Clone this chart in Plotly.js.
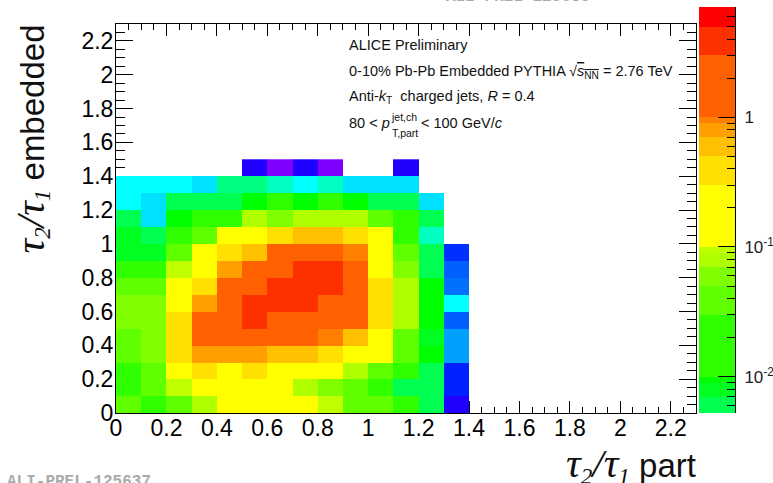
<!DOCTYPE html>
<html><head><meta charset="utf-8">
<script src="https://cdn.plot.ly/plotly-3.0.1.min.js"></script>
<style>html,body{margin:0;padding:0;background:#fff}#c{width:773px;height:483px}</style>
</head><body><div id="c"></div>
<script>
// bin edges of the 2D histogram
const xEdges = [0,0.1,0.2,0.3,0.4,0.5,0.6,0.7,0.8,0.9,1.0,1.1,1.2,1.3,1.4];
const yEdges = [0,0.1,0.2,0.3,0.4,0.5,0.6,0.7,0.8,0.9,1.0,1.1,1.2,1.3,1.4,1.5];
// rows from y = 0 upward, columns from x = 0 rightward
const r00 = [.04,.02,.04,.08,.2,.2,.2,.2,.095,.04,.04,.02,.006,.0006];
const r01 = [.02,.04,.095,.2,.2,.2,.2,.08,.06,.04,.02,.006,.006,.0008];
const r02 = [.02,.04,.2,.4,.2,.4,.2,.2,.2,.08,.04,.02,.006,.0008];
const r03 = [.04,.06,.4,.8,.8,.8,.6,.6,.4,.2,.2,.04,.0095,.0014];
const r04 = [.04,.06,.4,1.5,1.7,1.8,1.6,1.5,.95,.6,.2,.04,.008,.0014];
const r05 = [.06,.06,.4,1.5,2,3.2,2.2,2,1.7,1.3,.4,.08,.0095,.0011];
const r06 = [.06,.06,.2,.8,2,3.2,3.5,3.3,1.8,1.2,.4,.08,.0095,.0025];
const r07 = [.04,.04,.2,.4,1.5,1.9,3.5,4.5,3.2,1.4,.4,.08,.0095,.0012];
const r08 = [.02,.02,.095,.2,.8,1.4,1.8,3.2,3.3,1.6,.2,.06,.006,.0011];
const r09 = [.008,.008,.04,.2,.4,.6,1.3,1.5,1.4,.95,.2,.04,.006,.0009];
const r10 = [.008,.006,.02,.04,.2,.2,.4,.6,.6,.4,.2,.02,.0035,null];
const r11 = [.006,.0018,.0095,.02,.02,.08,.06,.08,.08,.08,.04,.02,.006,null];
const r12 = [.0025,.0018,.006,.006,.006,.0095,.02,.0095,.02,.0095,.006,.006,.0018,null];
const r13 = [.0025,.0025,.0025,.0018,.0045,.0045,.0035,.0025,.0035,.0018,.0018,.0018,null,null];
const r14 = [null,null,null,null,null,.0006,.0004,.0006,.0004,null,null,.0006,null,null];
const zRows = [r00,r01,r02,r03,r04,r05,r06,r07,r08,r09,r10,r11,r12,r13,r14];

// colour contour levels and the colour of each band between them
const levels = [.0003,.0005,.0007,.00085,.001,.00115,.0013,.0015,.002,.003,.004,.005,.007,.009,.01,.03,.05,.07,.09,.1,.3,.5,.7,.9,1,3,5,7.08];
const bandColors = ['#8000ff','#2000ff','#0020ff','#0030ff','#0060ff','#0070ff','#00a0ff','#00e0ff','#00ffff','#00ffc0','#00ff80','#00ff50','#00ff20','#00ff00','#30ff00','#60ff00','#80ff00','#b0ff00','#c0ff00','#ffff00','#ffe000','#ffc000','#ffa000','#ff8000','#ff6000','#ff3000','#ff0000'];
const barMin = 0.00525, barMax = 7.08;
const barTicks = [0.01,0.1,1];
const barTickText = ['10<sup>-2</sup>','10<sup>-1</sup>','1'];

const lg = v => v===null ? null : Math.log10(v);
const zLo = lg(levels[0]), zHi = lg(levels[levels.length-1]);
const frac = v => (lg(v)-zLo)/(zHi-zLo);
const colorscale = [];
bandColors.forEach((c,i)=>{ colorscale.push([frac(levels[i]),c]); colorscale.push([frac(levels[i+1]),c]); });

// colour bar: same colour scale, showing only the displayed range
const barEdges = levels.filter(v=>v>barMin && v<barMax); barEdges.unshift(barMin); barEdges.push(barMax);
const barZ = barEdges.slice(0,-1).map((v,i)=>[(lg(v)+lg(barEdges[i+1]))/2]);

const W=773,H=483;
const px = x=>x/W, py = y=>1-y/H;
const sans = "'Liberation Sans',Arial,sans-serif";
const ann = (text,x,y,size,extra)=>Object.assign({text,x:px(x),y:py(y),xref:'paper',yref:'paper',showarrow:false,xanchor:'left',yanchor:'middle',
  font:{family:sans,size:size,color:'#111'},borderpad:0},extra||{});
const big = s=>`<span style="font-family:'Liberation Serif';font-size:41px"><i>${s}</i></span>`;
const small = s=>`<sub><span style="font-family:'Liberation Serif'"><i>${s}</i></span></sub>`;
const tauRatio = big('τ')+small('2')+big('/τ')+small('1');
const mono = {family:"'Liberation Mono',monospace",size:16,color:'#aaa',weight:700};

const traces = [
 {type:'heatmap',x:xEdges,y:yEdges,z:zRows.map(r=>r.map(lg)),colorscale,zmin:zLo,zmax:zHi,showscale:false,hoverongaps:false},
 {type:'heatmap',x:[0,1],y:barEdges,z:barZ,colorscale,zmin:zLo,zmax:zHi,showscale:false,xaxis:'x2',yaxis:'y2'}
];
const tickCommon = {ticks:'inside',tickwidth:1,tickcolor:'#000',showline:true,linecolor:'#000',linewidth:1,showgrid:false,zeroline:false};
const layout = {
 width:W,height:H,margin:{l:0,r:0,t:0,b:0},paper_bgcolor:'#fff',plot_bgcolor:'#fff',showlegend:false,
 xaxis:Object.assign({},tickCommon,{domain:[px(116),px(696)],range:[0,2.3],tick0:0,dtick:0.2,ticklen:12,
   minor:{ticks:'inside',ticklen:6,dtick:0.05,tick0:0,tickcolor:'#000',tickwidth:1,showgrid:false},
   mirror:'allticks',layer:'below traces',tickfont:{family:sans,size:23,color:'#000'},ticklabelstandoff:-6}),
 yaxis:Object.assign({},tickCommon,{domain:[py(413),py(24)],range:[0,2.3],tick0:0,dtick:0.2,ticklen:17,
   minor:{ticks:'inside',ticklen:9,dtick:0.05,tick0:0,tickcolor:'#000',tickwidth:1,showgrid:false},
   mirror:'allticks',layer:'below traces',tickfont:{family:sans,size:23,color:'#000'},ticklabelstandoff:-3}),
 xaxis2:{domain:[px(699),px(735)],range:[0,1],anchor:'y2',visible:true,showticklabels:false,ticks:'',showline:false,showgrid:false,zeroline:false},
 yaxis2:Object.assign({},tickCommon,{domain:[py(413),py(7)],type:'log',range:[lg(barMin),lg(barMax)],anchor:'x2',side:'right',
   tickmode:'array',tickvals:barTicks,ticktext:barTickText,ticklen:17,
   minor:{ticks:'inside',ticklen:8,dtick:'D1',tickcolor:'#000',tickwidth:1,showgrid:false},
   tickfont:{family:sans,size:17,color:'#222'},ticklabelstandoff:5}),
 annotations:[
  ann('ALICE Preliminary',348,45,14.5),
  ann('0-10% Pb-Pb Embedded PYTHIA √<span style="text-decoration:overline"><i>s</i><sub>NN</sub></span> = 2.76 TeV',348,72,14.5),
  ann('Anti-<i>k</i><sub>T</sub>  charged jets, <i>R</i> = 0.4',348,97,14.5),
  ann('80 &lt; <i>p</i>',348,123,14.5),
  ann('jet,ch',390,117,10.5),
  ann('T,part',391,133,10.5),
  ann('&lt; 100 GeV/<i>c</i>',420,123,14.5),
  ann(tauRatio+' part',697,464,33,{xanchor:'right'}),
  ann(tauRatio+' embedded',31,24,33,{textangle:-90,xanchor:'center',yanchor:'top'}),
  {text:'ALI-PREL-125635',x:px(518),y:py(-3),xref:'paper',yref:'paper',showarrow:false,xanchor:'center',yanchor:'middle',font:mono},
  {text:'ALI-PREL-125637',x:px(79),y:py(482),xref:'paper',yref:'paper',showarrow:false,xanchor:'center',yanchor:'middle',font:mono}
 ]
};
Plotly.newPlot('c',traces,layout,{displayModeBar:false,staticPlot:true});
</script></body></html>
